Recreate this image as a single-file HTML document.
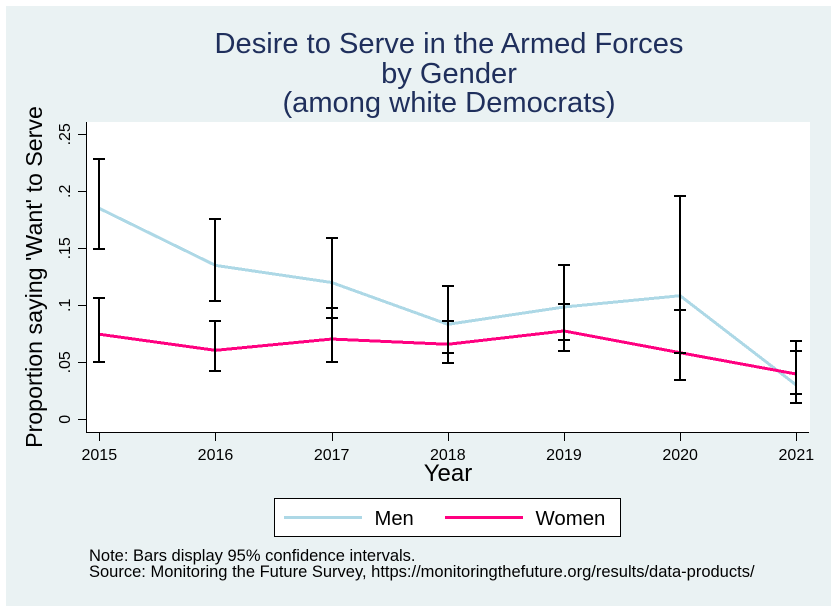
<!DOCTYPE html>
<html>
<head>
<meta charset="utf-8">
<title>Desire to Serve in the Armed Forces by Gender</title>
<style>
html,body{margin:0;padding:0;background:#fff;}
svg{display:block;font-family:"Liberation Sans",Arial,sans-serif;}
</style>
</head>
<body>
<svg id="chart" xmlns="http://www.w3.org/2000/svg" width="837" height="612" viewBox="0 0 837 612">
<rect x="6" y="6" width="825" height="600" fill="#eaf2f3"/>
<rect x="87" y="122" width="723" height="310" fill="#fff"/>
<g fill="#1f2f5c" font-size="29.1" text-anchor="middle">
<text x="449" y="53">Desire to Serve in the Armed Forces</text>
<text x="449" y="83">by Gender</text>
<text x="449" y="112">(among white Democrats)</text>
</g>
<g id="marks"></g>
<g id="axes"></g>
<text transform="translate(42 277) rotate(-90)" text-anchor="middle" font-size="23.2" fill="#000">Proportion saying 'Want' to Serve</text>
<text x="448" y="481" text-anchor="middle" font-size="24" fill="#000">Year</text>
<g>
<rect x="274.5" y="498.5" width="346" height="38" fill="#fff" stroke="#000" stroke-width="1"/>
<line x1="284" x2="362" y1="517.5" y2="517.5" stroke="#add8e6" stroke-width="3"/>
<text x="374.5" y="525" font-size="20.2" fill="#000">Men</text>
<line x1="445" x2="523" y1="517.5" y2="517.5" stroke="#ff0080" stroke-width="3"/>
<text x="535.5" y="525" font-size="20.4" fill="#000">Women</text>
</g>
<g font-size="16.5" fill="#000">
<text x="89" y="561">Note: Bars display 95% confidence intervals.</text>
<text x="89" y="577">Source: Monitoring the Future Survey, https://monitoringthefuture.org/results/data-products/</text>
</g>
</svg>
<script>
var years = [2015, 2016, 2017, 2018, 2019, 2020, 2021];
var yTicks = [0, 0.05, 0.1, 0.15, 0.2, 0.25];
var yTickLabels = ["0", ".05", ".1", ".15", ".2", ".25"];
var menValues = [0.185, 0.135, 0.120, 0.0833, 0.0985, 0.1084, 0.030];
var menLow = [0.1497, 0.1038, 0.0891, 0.0584, 0.0698, 0.0584, 0.0143];
var menHigh = [0.2286, 0.176, 0.1593, 0.1172, 0.1356, 0.1959, 0.060];
var womenValues = [0.0746, 0.0605, 0.0704, 0.0658, 0.0775, 0.0584, 0.0397];
var womenLow = [0.0505, 0.042, 0.0505, 0.0496, 0.0602, 0.0345, 0.0225];
var womenHigh = [0.1062, 0.0862, 0.098, 0.0865, 0.1014, 0.0959, 0.0687];

var NS = 'http://www.w3.org/2000/svg';
function xScale(year) { return 99.3 + (year - 2015) * 116.17; }
function yScale(v) { return 419.3 - v * 1140; }
function make(tag, parent, attrs) {
  var el = document.createElementNS(NS, tag);
  for (var k in attrs) { el.setAttribute(k, attrs[k]); }
  parent.appendChild(el);
  return el;
}
var marks = document.getElementById('marks');
var axes = document.getElementById('axes');

function drawSeries(values, color, name) {
  var pts = values.map(function (v, i) { return xScale(years[i]) + ',' + yScale(v); }).join(' ');
  var line = make('polyline', marks, { points: pts, fill: 'none', stroke: color, 'stroke-width': 3, 'stroke-linejoin': 'miter', 'shape-rendering': 'crispEdges' });
  
  
}
function drawBars(low, high, name) {
  low.forEach(function (lo, i) {
    var x = Math.round(xScale(years[i]));
    var yl = Math.round(yScale(lo)), yh = Math.round(yScale(high[i]));
    var g = make('g', marks, { stroke: '#000', 'stroke-width': 2, fill: 'none', 'shape-rendering': 'crispEdges' });
    
    
    make('line', g, { x1: x, x2: x, y1: yl, y2: yh });
    make('line', g, { x1: x - 6, x2: x + 6, y1: yl, y2: yl });
    make('line', g, { x1: x - 6, x2: x + 6, y1: yh, y2: yh });
  });
}
drawSeries(menValues, '#add8e6', 'men-line');
drawSeries(womenValues, '#ff0080', 'women-line');
drawBars(menLow, menHigh, 'men-confidence-interval');
drawBars(womenLow, womenHigh, 'women-confidence-interval');

var yAxisLine = make('line', axes, { x1: 86.5, x2: 86.5, y1: 122, y2: 433, stroke: '#000', 'stroke-width': 1 });


var xAxisLine = make('line', axes, { x1: 86, x2: 809, y1: 432.5, y2: 432.5, stroke: '#000', 'stroke-width': 1 });



yTicks.forEach(function (t, i) {
  var y = Math.round(yScale(t)) + 0.5;
  var tick = make('line', axes, { x1: 78, x2: 86, y1: y, y2: y, stroke: '#000', 'stroke-width': 1 });
  
  
  var label = make('text', axes, { transform: 'translate(70 ' + yScale(t) + ') rotate(-90)', 'text-anchor': 'middle', 'font-size': 16, fill: '#000' });
  
  
  label.textContent = yTickLabels[i];
});
years.forEach(function (yr) {
  var x = Math.round(xScale(yr)) + 0.5;
  var tick = make('line', axes, { x1: x, x2: x, y1: 433, y2: 441, stroke: '#000', 'stroke-width': 1 });
  
  
  var label = make('text', axes, { x: xScale(yr), y: 460, 'text-anchor': 'middle', 'font-size': 16, fill: '#000' });
  
  
  label.textContent = yr;
});
</script>
</body>
</html>
